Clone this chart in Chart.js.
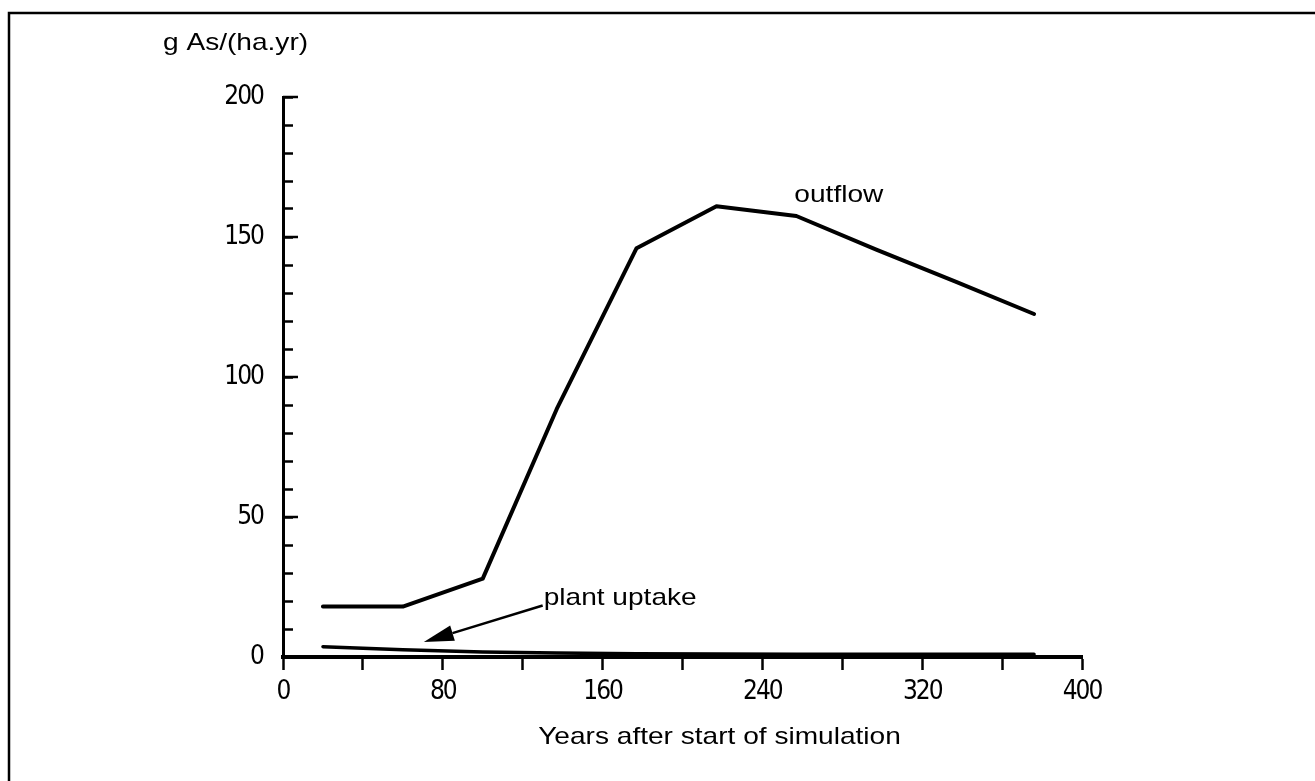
<!DOCTYPE html>
<html>
<head>
<meta charset="utf-8">
<script src="https://cdn.jsdelivr.net/npm/chart.js@4.4.1/dist/chart.umd.min.js"></script>
<style>
    html, body { margin: 0; padding: 0; background: #fff; }
    #wrap { width: 1315px; height: 781px; }
</style>
</head>
<body>
<div id="wrap"><canvas id="grafico" width="1315" height="781"></canvas></div>
<script>
// valores
var anos = [20, 60, 100, 137, 177, 217, 257, 297, 337, 376];
var outflow = [18, 18, 28, 88.5, 146, 161, 157.5, 145.5, 134, 122.5];
var plantUptake = [3.7, 2.6, 1.8, 1.4, 1.2, 1.1, 1.0, 1.0, 1.0, 1.0];
var xTicks = [0, 80, 160, 240, 320, 400];
var yTicks = [0, 50, 100, 150, 200];

var fuenteTicks = "'Liberation Sans Narrow', 'DejaVu Sans Condensed', sans-serif";
var fuenteTexto = "'Liberation Sans', Arial, sans-serif";

function puntos(valores) {
    var res = [];
    for (var i = 0; i < anos.length; i++) {
        res.push({x: anos[i], y: valores[i]});
    }
    return res;
}

// texto estirado en horizontal, como en el escaneo
function texto(ctx, txt, x, y, size, estirar, align) {
    ctx.save();
    ctx.letterSpacing = '0px';
    ctx.font = size + 'px ' + fuenteTexto;
    ctx.fillStyle = '#000';
    ctx.textBaseline = 'alphabetic';
    var w = ctx.measureText(txt).width * estirar;
    if (align === 'center') x -= w / 2;
    ctx.translate(x, y);
    ctx.scale(estirar, 1);
    ctx.fillText(txt, 0, 0);
    ctx.restore();
}

var anotaciones = {
    id: 'anotaciones',
    beforeDraw: function(chart) {
        var ctx = chart.ctx;
        ctx.save();
        ctx.strokeStyle = '#000';
        ctx.lineWidth = 2.5;
        ctx.beginPath();
        ctx.moveTo(9, 781);
        ctx.lineTo(9, 13);
        ctx.lineTo(1315, 13);
        ctx.stroke();
        ctx.restore();
        // numeros de los ejes apretados
        ctx.letterSpacing = '-2px';
    },
    afterDraw: function(chart) {
        var ctx = chart.ctx;
        var sx = chart.scales.x, sy = chart.scales.y;
        var area = chart.chartArea;

        // marcas mayores del eje y un poco mas largas
        ctx.save();
        ctx.strokeStyle = '#000';
        ctx.lineWidth = 2.5;
        yTicks.forEach(function(v) {
            if (v === 0) return;
            var py = sy.getPixelForValue(v);
            ctx.beginPath();
            ctx.moveTo(area.left, py);
            ctx.lineTo(area.left + 15, py);
            ctx.stroke();
        });
        ctx.restore();

        texto(ctx, 'g As/(ha.yr)', area.left - 120, area.top - 47, 24, 1.17);
        texto(ctx, 'Years after start of simulation', (area.left + area.right) / 2 + 37, 744, 24, 1.17, 'center');

        texto(ctx, 'outflow', sx.getPixelForValue(256), sy.getPixelForValue(162.5), 24, 1.17);
        texto(ctx, 'plant uptake', sx.getPixelForValue(130.5), sy.getPixelForValue(18.6), 24, 1.17);

        // flecha de plant uptake
        var x0 = sx.getPixelForValue(130), y0 = sy.getPixelForValue(18.4);
        var x1 = sx.getPixelForValue(70.5), y1 = sy.getPixelForValue(5.4);
        var ang = Math.atan2(y1 - y0, x1 - x0);
        var largo = 30, ancho = 8;
        var bx = x1 - Math.cos(ang) * largo, by = y1 - Math.sin(ang) * largo;
        ctx.save();
        ctx.strokeStyle = '#000';
        ctx.fillStyle = '#000';
        ctx.lineWidth = 2.5;
        ctx.beginPath();
        ctx.moveTo(x0, y0);
        ctx.lineTo(bx, by);
        ctx.stroke();
        ctx.beginPath();
        ctx.moveTo(x1, y1);
        ctx.lineTo(bx + Math.sin(ang) * ancho, by - Math.cos(ang) * ancho);
        ctx.lineTo(bx - Math.sin(ang) * ancho, by + Math.cos(ang) * ancho);
        ctx.closePath();
        ctx.fill();
        ctx.restore();
    }
};

var canvas = document.getElementById('grafico').getContext('2d');
window.grafico = new Chart(canvas, {
    type: 'line',
    data: {
        datasets: [{
                label: 'outflow',
                data: puntos(outflow),
                borderColor: '#000',
                borderWidth: 4,
                pointRadius: 0,
                tension: 0,
                borderJoinStyle: 'round',
                borderCapStyle: 'round'
            }, {
                label: 'plant uptake',
                data: puntos(plantUptake),
                borderColor: '#000',
                borderWidth: 3.5,
                pointRadius: 0,
                tension: 0,
                borderJoinStyle: 'round',
                borderCapStyle: 'round'
            }]
    },
    options: {
        responsive: false,
        animation: false,
        devicePixelRatio: 1,
        layout: { padding: { left: 0, right: 233, top: 97, bottom: 0 } },
        plugins: {
            legend: { display: false },
            tooltip: { enabled: false }
        },
        scales: {
            x: {
                type: 'linear',
                min: 0,
                max: 400,
                afterFit: function(scale) { scale.height = 124; },
                border: { display: true, color: '#000', width: 4 },
                grid: {
                    drawOnChartArea: false,
                    drawTicks: true,
                    tickLength: 13,
                    tickColor: '#000',
                    tickWidth: 2.5
                },
                ticks: {
                    stepSize: 40,
                    maxTicksLimit: 20,
                    autoSkip: false,
                    maxRotation: 0,
                    padding: 7,
                    color: '#000',
                    font: { family: fuenteTicks, size: 26 },
                    callback: function(v) { return xTicks.indexOf(v) >= 0 ? String(v) : ''; }
                }
            },
            y: {
                min: 0,
                max: 200,
                afterFit: function(scale) { scale.width = 283; },
                border: { display: true, color: '#000', width: 3 },
                grid: {
                    drawOnChartArea: false,
                    drawTicks: true,
                    tickLength: -10,
                    tickColor: '#000',
                    tickWidth: 2.5
                },
                ticks: {
                    stepSize: 10,
                    maxTicksLimit: 25,
                    autoSkip: false,
                    padding: 30,
                    color: '#000',
                    font: { family: fuenteTicks, size: 26 },
                    callback: function(v) { return yTicks.indexOf(v) >= 0 ? String(v) : ''; }
                }
            }
        }
    },
    plugins: [anotaciones]
});
</script>
</body>
</html>
